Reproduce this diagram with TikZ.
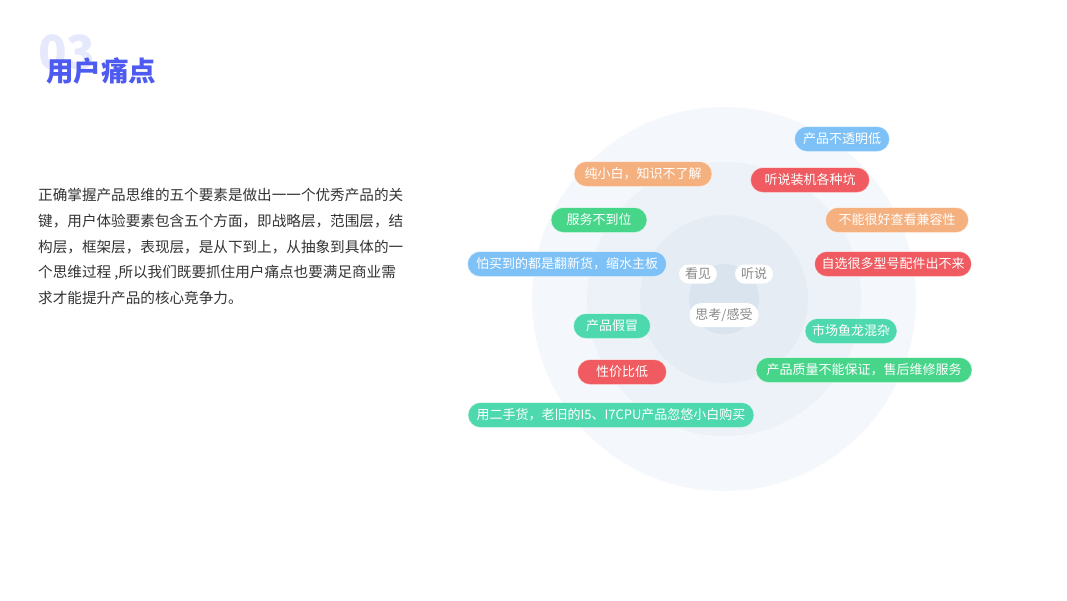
\documentclass[tikz,border=0pt]{standalone}
\usepackage{fontspec}
\newfontfamily\cjk{Noto Sans CJK SC}
\definecolor{cblue}{HTML}{7DC1F7}
\definecolor{corange}{HTML}{F5B07F}
\definecolor{cred}{HTML}{EF5B60}
\definecolor{cgreen}{HTML}{47D58A}
\definecolor{cteal}{HTML}{4ED8AE}
\definecolor{ring1}{HTML}{F4F7FB}
\definecolor{ring2}{HTML}{EDF2F8}
\definecolor{ring3}{HTML}{E6ECF4}
\definecolor{ring4}{HTML}{D9E4EF}
\definecolor{titleblue}{HTML}{4E5BF0}
\definecolor{numlav}{HTML}{E6E8FC}
\definecolor{bodytext}{HTML}{333333}
\definecolor{greytext}{HTML}{8A8A8A}
\tikzset{
  chip/.style={rectangle, rounded corners=12.5pt, minimum height=25pt, inner xsep=7pt, inner ysep=0pt,
    text=white, font=\cjk\fontsize{13}{13}\selectfont, draw=white, draw opacity=0.5, line width=0.8pt},
  wchip/.style={rectangle, rounded corners=9.5pt, fill=white, minimum height=19pt, inner xsep=6pt, inner ysep=0pt,
    text=greytext, font=\cjk\fontsize{13}{13}\selectfont},
  bodyline/.style={anchor=west, inner sep=0pt, text=bodytext, font=\cjk\fontsize{14.6}{14.6}\selectfont},
}
\begin{document}
\begin{tikzpicture}[x=1pt,y=-1pt]
\useasboundingbox (0,0) rectangle (1067,600);
\fill[white] (0,0) rectangle (1067,600);
% rings
\fill[ring1] (724,299) circle (192);
\fill[ring2] (724,299) circle (137);
\fill[ring3] (724,299) circle (84);
\fill[ring4] (724,299) circle (35);
% title
\node[anchor=west, inner sep=0pt, text=numlav, font=\cjk\bfseries\fontsize{47}{47}\selectfont] (num) at (38,52) {03};
\node[anchor=west, inner sep=0pt, text=titleblue, font=\cjk\bfseries\fontsize{27.5}{27.5}\selectfont] (title) at (46,71) {用户痛点};
% body
\node[bodyline] (l1) at (38,195) {正确掌握产品思维的五个要素是做出一一个优秀产品的关};
\node[bodyline] (l2) at (38,221) {键，用户体验要素包含五个方面，即战略层，范围层，结};
\node[bodyline] (l3) at (38,247) {构层，框架层，表现层，是从下到上，从抽象到具体的一};
\node[bodyline] (l4) at (38,273) {个思维过程 ,所以我们既要抓住用户痛点也要满足商业需};
\node[bodyline] (l5) at (38,298) {求才能提升产品的核心竞争力。};
% chips
\node[chip, fill=cblue, minimum width=95pt] (c1) at (842,139) {产品不透明低};
\node[chip, fill=corange, minimum width=138pt] (c2) at (643,174) {纯小白，知识不了解};
\node[chip, fill=cred, minimum width=119pt] (c3) at (810,180) {听说装机各种坑};
\node[chip, fill=cgreen, minimum width=96pt] (c4) at (599,220) {服务不到位};
\node[chip, fill=corange, minimum width=143pt] (c5) at (897,220) {不能很好查看兼容性};
\node[chip, fill=cblue, minimum width=199pt] (c6) at (567,264) {怕买到的都是翻新货，缩水主板};
\node[chip, fill=cred, minimum width=157pt] (c7) at (893,264) {自选很多型号配件出不来};
\node[chip, fill=cteal, minimum width=77pt] (c8) at (612,326) {产品假冒};
\node[chip, fill=cteal, minimum width=91pt] (c9) at (851,331) {市场鱼龙混杂};
\node[chip, fill=cred, minimum width=89pt] (c10) at (622,372) {性价比低};
\node[chip, fill=cgreen, minimum width=216pt] (c11) at (864,370) {产品质量不能保证，售后维修服务};
\node[chip, fill=cteal, minimum width=286pt] (c12) at (611,415) {用二手货，老旧的I5、I7CPU产品忽悠小白购买};
% white chips
\node[wchip, minimum width=38pt] (w1) at (698,274) {看见};
\node[wchip, minimum width=38pt] (w2) at (754,274) {听说};
\node[wchip, minimum height=24pt, minimum width=64pt, rounded corners=12pt] (w3) at (724,315) {思考/感受};
\end{tikzpicture}
\end{document}
